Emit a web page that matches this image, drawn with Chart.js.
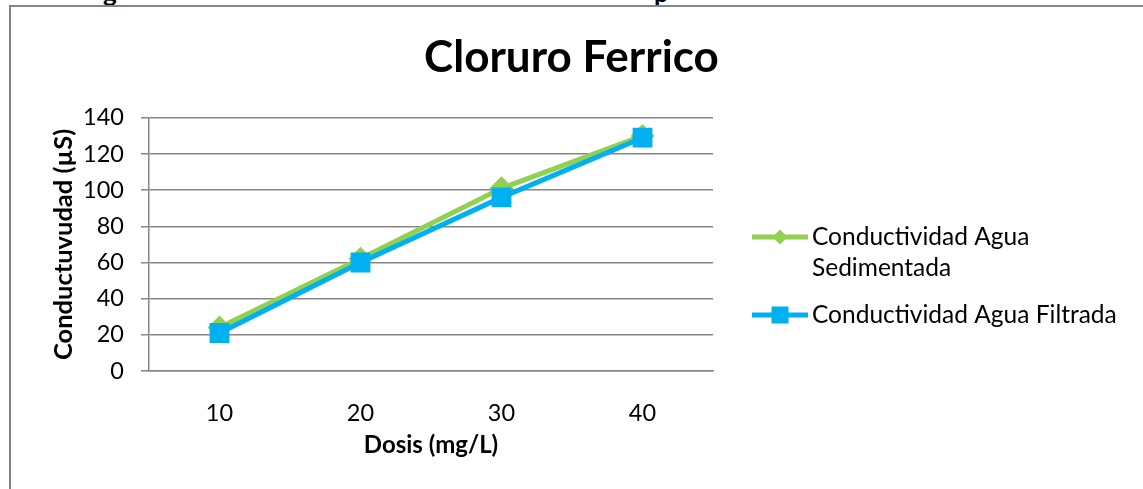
<!DOCTYPE html>
<html>
<head>
<meta charset="utf-8">
<script src="https://cdn.jsdelivr.net/npm/chart.js@4"></script>
<style>
  body { margin: 0; background: #fff; width: 1143px; height: 489px; overflow: hidden; position: relative; }
  #marco { position: absolute; left: 9px; top: 5px; width: 1200px; height: 600px; border: 2px solid #868686; }
  #grafico { position: absolute; left: 0; top: 0; }
  .corte { position: absolute; top: -24px; font: bold 26px Lato, sans-serif; color: #000; }
</style>
</head>
<body>
<span class="corte" style="left:103px">g</span>
<span class="corte" style="left:654px">p</span>
<div id="marco"></div>
<canvas id="grafico" width="1143" height="489"></canvas>
<script>
// dosis de cloruro ferrico (mg/L) y conductividad medida (µS)
const dosis = ['10', '20', '30', '40'];
const sedimentada = [24, 62, 101, 130];
const filtrada = [21, 60, 96, 129];
const nombres = ['Conductividad Agua Sedimentada', 'Conductividad Agua Filtrada'];

const verde = '#92D050';
const azul = '#00B0F0';
const gris = '#868686';
const fuente = 'Lato';

// leyenda a la derecha, con el texto partido en varias lineas si no cabe
const leyenda = {
    id: 'leyenda',
    afterDraw(chart) {
        const ctx = chart.ctx;
        const x0 = 752, x1 = 808, xt = 812, anchoMax = 321, alto = 31;
        const filas = [237, 315];
        ctx.save();
        ctx.font = '24.5px ' + fuente;
        ctx.textBaseline = 'middle';
        chart.data.datasets.forEach((ds, i) => {
            const y = filas[i];
            ctx.strokeStyle = ds.borderColor;
            ctx.lineWidth = ds.borderWidth;
            ctx.beginPath();
            ctx.moveTo(x0, y);
            ctx.lineTo(x1, y);
            ctx.stroke();
            ctx.fillStyle = ds.backgroundColor;
            const xm = (x0 + x1) / 2;
            if (ds.pointStyle === 'rectRot') {
                const r = 7.5;
                ctx.beginPath();
                ctx.moveTo(xm, y - r);
                ctx.lineTo(xm + r, y);
                ctx.lineTo(xm, y + r);
                ctx.lineTo(xm - r, y);
                ctx.closePath();
                ctx.fill();
            } else {
                ctx.fillRect(xm - 8.5, y - 8.5, 17, 17);
            }
            // partir el texto por palabras
            const palabras = ds.label.split(' ');
            const lineas = [];
            let actual = '';
            palabras.forEach(p => {
                const prueba = actual ? actual + ' ' + p : p;
                if (ctx.measureText(prueba).width > anchoMax && actual) {
                    lineas.push(actual);
                    actual = p;
                } else {
                    actual = prueba;
                }
            });
            lineas.push(actual);
            ctx.fillStyle = '#000';
            lineas.forEach((l, k) => ctx.fillText(l, xt, y + k * alto));
        });
        ctx.restore();
    }
};

var ctx = document.getElementById('grafico');
var grafico = new Chart(ctx, {
    type: 'line',
    data: {
        labels: dosis,
        datasets: [{
            label: nombres[0],
            data: sedimentada,
            borderColor: verde,
            backgroundColor: verde,
            borderWidth: 5,
            pointStyle: 'rectRot',
            pointRadius: 12,
            pointBorderWidth: 0,
            order: 1
        }, {
            label: nombres[1],
            data: filtrada,
            borderColor: azul,
            backgroundColor: azul,
            borderWidth: 5,
            pointStyle: 'rect',
            pointRadius: 14,
            pointBorderWidth: 0,
            order: 0
        }]
    },
    options: {
        responsive: false,
        animation: false,
        layout: { padding: 0 },
        plugins: {
            legend: { display: false },
            tooltip: { enabled: false },
            title: {
                display: true,
                text: 'Cloruro Ferrico',
                color: '#000',
                font: { family: fuente, size: 44, weight: 'bold' },
                padding: { top: 31, bottom: 34 }
            }
        },
        scales: {
            x: {
                offset: true,
                grid: { display: false },
                border: { color: gris, width: 1.5 },
                ticks: { color: '#000', padding: 20, font: { family: fuente, size: 23.5 } },
                title: {
                    display: true,
                    text: 'Dosis (mg/L)',
                    color: '#000',
                    font: { family: fuente, size: 24, weight: 'bold' },
                    padding: { top: 0, bottom: 29 }
                },
                afterFit(s) { s.height = 118; }
            },
            y: {
                min: 0,
                max: 140,
                ticks: { stepSize: 20, color: '#000', padding: 17, font: { family: fuente, size: 23.5 } },
                grid: { color: gris, lineWidth: 1.5, tickLength: 8 },
                border: { color: gris, width: 1.5 },
                title: {
                    display: true,
                    text: 'Conductuvudad (µS)',
                    color: '#000',
                    font: { family: fuente, size: 25.5, weight: 'bold' },
                    padding: { top: 48, bottom: 0 }
                },
                afterFit(s) { s.width = 149; }
            },
            // eje vacio a la derecha: deja sitio a la leyenda
            hueco: {
                position: 'right',
                display: true,
                grid: { display: false },
                border: { display: false },
                ticks: { display: false },
                afterFit(s) { s.width = 430; }
            }
        }
    },
    plugins: [leyenda]
});
</script>
</body>
</html>
